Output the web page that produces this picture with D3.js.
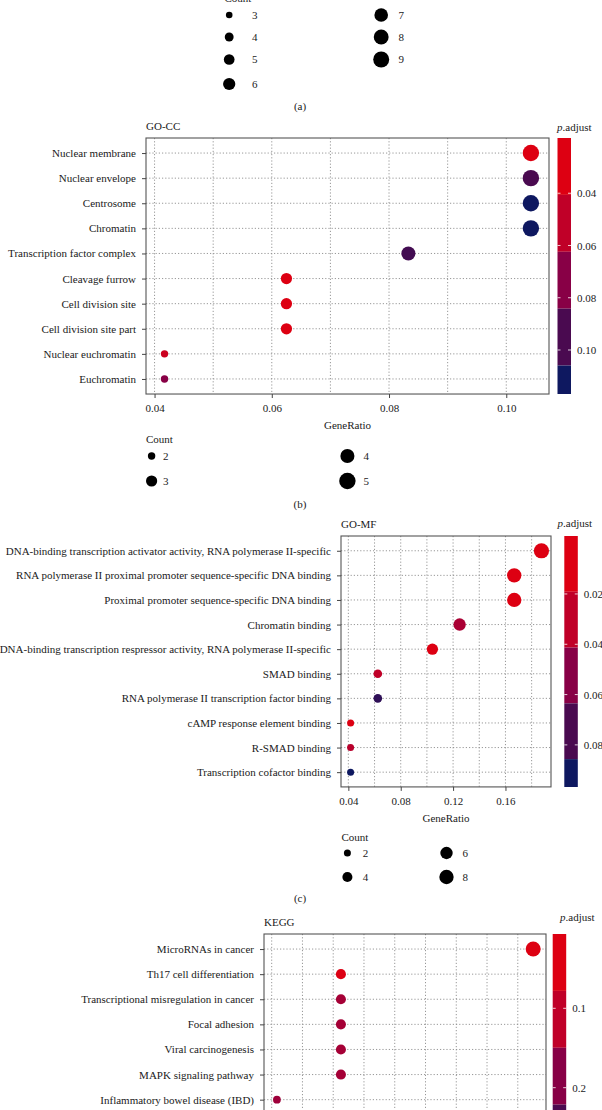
<!DOCTYPE html>
<html>
<head>
<meta charset="utf-8">
<script src="https://cdn.jsdelivr.net/npm/d3@7"></script>
<style>
  body { margin: 0; background: #fff; }
  svg { display: block; }
  text { font-family: "Liberation Serif", "Times New Roman", serif; fill: #1a1a1a; }
</style>
</head>
<body>
<div id="chart"></div>
<script>
// (a) only the lower part of its Count legend is visible
const aCountBreaks = [3, 4, 5, 6, 7, 8, 9];

// (b) GO-CC
const ccTerms = ["Nuclear membrane", "Nuclear envelope", "Centrosome", "Chromatin",
  "Transcription factor complex", "Cleavage furrow", "Cell division site",
  "Cell division site part", "Nuclear euchromatin", "Euchromatin"];
const ccRatio = [0.1042, 0.1042, 0.1042, 0.1042, 0.0833, 0.0625, 0.0625, 0.0625, 0.0417, 0.0417];
const ccCount = [5, 5, 5, 5, 4, 3, 3, 3, 2, 2];
const ccPadj = [0.0243, 0.0951, 0.1114, 0.1114, 0.0970, 0.0243, 0.0243, 0.0250, 0.0430, 0.0733];
const ccMajor = [0.04, 0.06, 0.08, 0.10];
const ccMinor = [0.05, 0.07, 0.09];
const ccBarTicks = [0.04, 0.06, 0.08, 0.10];
const ccBarLimits = [0.0243, 0.1114];
const ccCountBreaks = [2, 3, 4, 5];

// (c) GO-MF
const mfTerms = ["DNA-binding transcription activator activity, RNA polymerase II-specific",
  "RNA polymerase II proximal promoter sequence-specific DNA binding",
  "Proximal promoter sequence-specific DNA binding", "Chromatin binding",
  "DNA-binding transcription respressor activity, RNA polymerase II-specific",
  "SMAD binding", "RNA polymerase II transcription factor binding",
  "cAMP response element binding", "R-SMAD binding", "Transcription cofactor binding"];
const mfRatio = [0.1875, 0.1667, 0.1667, 0.1250, 0.1042, 0.0625, 0.0625, 0.0417, 0.0417, 0.0417];
const mfCount = [9, 8, 8, 6, 5, 3, 3, 2, 2, 2];
const mfPadj = [0.0025, 0.0025, 0.0030, 0.0388, 0.0080, 0.0302, 0.0820, 0.0060, 0.0330, 0.0912];
const mfMajor = [0.04, 0.08, 0.12, 0.16];
const mfMinor = [0.06, 0.10, 0.14, 0.18];
const mfBarTicks = [0.02, 0.04, 0.06, 0.08];
const mfBarLimits = [0.0025, 0.0912];
const mfCountBreaks = [2, 4, 6, 8];

// (d) KEGG, cut off by the bottom of the picture
const keggTerms = ["MicroRNAs in cancer", "Th17 cell differentiation",
  "Transcriptional misregulation in cancer", "Focal adhesion", "Viral carcinogenesis",
  "MAPK signaling pathway", "Inflammatory bowel disease (IBD)"];
const keggRatio = [0.1250, 0.0625, 0.0625, 0.0625, 0.0625, 0.0625, 0.0417];
const keggCount = [6, 3, 3, 3, 3, 3, 2];
const keggPadj = [0.0243, 0.0450, 0.1480, 0.1480, 0.1480, 0.1480, 0.1580];
const keggMajor = [0.04, 0.06, 0.08, 0.10, 0.12];
const keggMinor = [0.05, 0.07, 0.09, 0.11];
const keggBarTicks = [0.1, 0.2];
const keggBarLimits = [0.0243, 0.311];

// colours of the stepped p.adjust bar, top to bottom
const barColors = ["#dd0012", "#c00028", "#880046", "#4a0a50", "#0e1860"];
const barEdges = [0, 2 / 9, 4 / 9, 6 / 9, 8 / 9, 1];

const W = 602, H = 1110;
const svg = d3.select("#chart").append("svg")
  .attr("width", W).attr("height", H);

// colour of a point on the bar (fraction from the top)
const fracColor = d3.scaleLinear()
  .domain(barEdges.slice(0, 5).map((e, i) => (e + barEdges[i + 1]) / 2))
  .range(barColors)
  .clamp(true);

function countLegend(cfg) {
  const g = svg.append("g");
  g.append("text").attr("x", cfg.titleX).attr("y", cfg.titleY)
    .attr("font-size", 11).text("Count");
  cfg.breaks.forEach((b, i) => {
    const col = Math.floor(i / cfg.rows.length), row = i % cfg.rows.length;
    const c = cfg.cols[col];
    g.append("circle").attr("cx", c.x).attr("cy", cfg.rows[row])
      .attr("r", cfg.size(b)).attr("fill", "#000");
    g.append("text").attr("x", c.lx).attr("y", cfg.rows[row]).attr("dy", "0.35em")
      .attr("font-size", 11).text(b);
  });
}

function panel(p) {
  const g = svg.append("g");
  const x = d3.scaleLinear().domain(p.xDomain).range([p.left, p.right]);
  const y = d3.scalePoint().domain(p.terms)
    .range([p.top, p.top + p.step * (p.terms.length - 1 + 1.2)]).padding(0.6);
  const bottom = y.range()[1];

  // grid
  g.selectAll(".vg").data(p.major.concat(p.minor)).join("line")
    .attr("x1", d => x(d)).attr("x2", d => x(d))
    .attr("y1", p.top).attr("y2", bottom)
    .attr("stroke", "#8c8c8c").attr("stroke-width", 0.9).attr("stroke-dasharray", "1.2,2");
  g.selectAll(".hg").data(p.terms).join("line")
    .attr("x1", p.left).attr("x2", p.right)
    .attr("y1", d => y(d)).attr("y2", d => y(d))
    .attr("stroke", "#8c8c8c").attr("stroke-width", 0.9).attr("stroke-dasharray", "1.2,2");

  // colour scale for the dots: p.adjust -> position on the bar -> colour
  const yBarFrac = d3.scaleLinear().domain(p.barLimits).range([1 / 18, 17 / 18]);
  const size = d3.scaleRadial().domain(p.sizeDomain).range(p.sizeRange);

  g.selectAll(".dot").data(p.terms).join("circle")
    .attr("cx", (d, i) => x(p.ratio[i]))
    .attr("cy", d => y(d))
    .attr("r", (d, i) => size(p.count[i]))
    .attr("fill", (d, i) => fracColor(yBarFrac(p.padj[i])));

  g.append("rect").attr("x", p.left).attr("y", p.top)
    .attr("width", p.right - p.left).attr("height", bottom - p.top)
    .attr("fill", "none").attr("stroke", "#555").attr("stroke-width", 1.1);

  // axes
  const ya = g.append("g").attr("transform", `translate(${p.left},0)`)
    .call(d3.axisLeft(y).tickSize(4).tickPadding(6));
  ya.select(".domain").remove();
  ya.selectAll("line").attr("stroke", "#444");
  ya.selectAll("text").attr("font-size", 11).attr("fill", "#1a1a1a")
    .attr("font-family", '"Liberation Serif", serif');

  // the KEGG panel runs past the bottom edge, its x axis is not in the picture
  if (p.showX) {
    const xa = g.append("g").attr("transform", `translate(0,${bottom})`)
      .call(d3.axisBottom(x).tickValues(p.major).tickFormat(d3.format(".2f"))
        .tickSize(4).tickPadding(6));
    xa.select(".domain").remove();
    xa.selectAll("line").attr("stroke", "#444");
    xa.selectAll("text").attr("font-size", 11).attr("fill", "#1a1a1a")
      .attr("font-family", '"Liberation Serif", serif');

    g.append("text").attr("x", (p.left + p.right) / 2).attr("y", bottom + 35)
      .attr("text-anchor", "middle").attr("font-size", 11).text("GeneRatio");
  }

  g.append("text").attr("x", p.left).attr("y", p.top - 8)
    .attr("font-size", 11).text(p.title);

  // p.adjust bar
  const barY = d3.scaleLinear().domain([0, 1]).range([p.top, p.top + p.barH]);
  const cb = g.append("g");
  cb.selectAll("rect").data(barColors).join("rect")
    .attr("x", p.barX).attr("width", 13.5)
    .attr("y", (d, i) => barY(barEdges[i]))
    .attr("height", (d, i) => barY(barEdges[i + 1]) - barY(barEdges[i]))
    .attr("fill", d => d);
  const tickY = d3.scaleLinear().domain(p.barLimits)
    .range([barY(1 / 18), barY(17 / 18)]);
  p.barTicks.forEach(t => {
    [p.barX, p.barX + 10.5].forEach(x0 => {
      cb.append("line").attr("x1", x0).attr("x2", x0 + 3)
        .attr("y1", tickY(t)).attr("y2", tickY(t))
        .attr("stroke", "#fff").attr("stroke-width", 0.8);
    });
  });
  const ca = cb.append("g").attr("transform", `translate(${p.barX + 13.5},0)`)
    .call(d3.axisRight(tickY).tickValues(p.barTicks).tickFormat(d3.format(p.barFmt))
      .tickSize(0).tickPadding(6));
  ca.select(".domain").remove();
  ca.selectAll("text").attr("font-size", 11).attr("fill", "#1a1a1a")
    .attr("font-family", '"Liberation Serif", serif');

  const pt = g.append("text").attr("x", p.pTitleX).attr("y", p.pTitleY).attr("font-size", 11);
  pt.append("tspan").attr("font-style", "italic").text("p");
  pt.append("tspan").text(".adjust");

  return size;
}

function panelLabel(txt, yc) {
  svg.append("text").attr("x", 300).attr("y", yc).attr("dy", "0.35em")
    .attr("text-anchor", "middle").attr("font-size", 11).text(txt);
}

// (a)
countLegend({
  titleX: 224.5, titleY: 1.5, breaks: aCountBreaks, rows: [15, 37, 59.5, 84],
  cols: [{ x: 229.2, lx: 252 }, { x: 381.2, lx: 398.5 }],
  size: d3.scaleRadial().domain([3, 9]).range([3.3, 8])
});
panelLabel("(a)", 106);

// (b)
const ccSize = panel({
  title: "GO-CC", terms: ccTerms, ratio: ccRatio, count: ccCount, padj: ccPadj,
  xDomain: [0.03854, 0.10729], major: ccMajor, minor: ccMinor,
  left: 146, right: 549, top: 138, step: 25.1, showX: true,
  sizeDomain: [2, 5], sizeRange: [3.7, 8.2],
  barX: 557.5, barH: 256, barLimits: ccBarLimits, barTicks: ccBarTicks, barFmt: ".2f",
  pTitleX: 557, pTitleY: 131
});
countLegend({
  titleX: 146, titleY: 443, breaks: ccCountBreaks, rows: [456, 481],
  cols: [{ x: 151.6, lx: 163 }, { x: 347.4, lx: 363.6 }], size: ccSize
});
panelLabel("(b)", 504);

// (c)
const mfSize = panel({
  title: "GO-MF", terms: mfTerms, ratio: mfRatio, count: mfCount, padj: mfPadj,
  xDomain: [0.03438, 0.19479], major: mfMajor, minor: mfMinor,
  left: 341, right: 551, top: 536, step: 24.6, showX: true,
  sizeDomain: [2, 9], sizeRange: [3.5, 7.6],
  barX: 564.3, barH: 251, barLimits: mfBarLimits, barTicks: mfBarTicks, barFmt: ".2f",
  pTitleX: 557.5, pTitleY: 527
});
countLegend({
  titleX: 341.5, titleY: 841, breaks: mfCountBreaks, rows: [853, 877],
  cols: [{ x: 347.4, lx: 362.8 }, { x: 446.5, lx: 462.6 }], size: mfSize
});
panelLabel("(c)", 898);

// (d)
panel({
  title: "KEGG", terms: keggTerms, ratio: keggRatio, count: keggCount, padj: keggPadj,
  xDomain: [0.0375, 0.12917], major: keggMajor, minor: keggMinor,
  left: 264, right: 546, top: 934, step: 25.1, showX: false,
  sizeDomain: [2, 6], sizeRange: [3.9, 7.5],
  barX: 552.7, barH: 256, barLimits: keggBarLimits, barTicks: keggBarTicks, barFmt: ".1f",
  pTitleX: 560, pTitleY: 921
});
</script>
</body>
</html>
